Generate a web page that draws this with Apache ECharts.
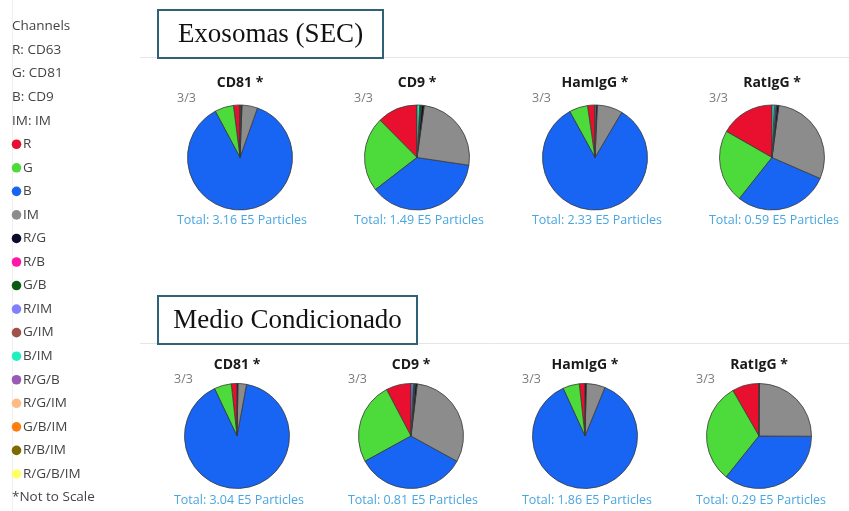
<!DOCTYPE html>
<html><head><meta charset="utf-8">
<script src="https://cdn.jsdelivr.net/npm/echarts@6/dist/echarts.min.js"></script>
<style>html,body{margin:0;padding:0;background:#fff}#c{width:849px;height:511px}</style>
</head><body><div id="c"></div>
<script>
// ---- data ----
const channels = ['R','G','B','IM','R/G','R/B','G/B','R/IM','G/IM','B/IM','R/G/B','R/G/IM','G/B/IM','R/B/IM','R/G/B/IM'];
const channelColors = ['#e8102e','#4cdb3a','#1765f2','#8c8c8c','#0b0b2e','#ff17a8','#0a5a14','#8080ff','#a0524a','#20f0c0','#9b59b6','#ffbb84','#ff7f0e','#7f6a00','#ffff66'];
const legendHeader = ['Channels','R: CD63','G: CD81','B: CD9','IM: IM'];
const footNote = '*Not to Scale';
const markers = ['CD81 *','CD9 *','HamIgG *','RatIgG *'];
const groupTitles = ['Exosomas (SEC)','Medio Condicionado'];
const exoTotals = ['3.16','1.49','2.33','0.59'];
const medTotals = ['3.04','0.81','1.86','0.29'];
// percentages per channel (order of channels)
const exoCD81   = [2.0, 5.8, 86.7, 4.8, 0.3, 0, 0.2, 0, 0, 0.1, 0, 0, 0, 0, 0];
const exoCD9    = [12.4, 23.0, 37.1, 25.1, 0.8, 0, 0.6, 0, 0, 0.8, 0, 0, 0, 0, 0];
const exoHamIgG = [2.3, 5.7, 83.5, 7.8, 0.4, 0, 0, 0, 0, 0.3, 0, 0, 0, 0, 0];
const exoRatIgG = [16.7, 22.6, 29.1, 29.4, 0.6, 0, 0.3, 0.5, 0, 0.7, 0, 0, 0, 0, 0];
const medCD81   = [1.75, 5.3, 90.0, 2.6, 0.3, 0, 0, 0, 0, 0, 0, 0, 0, 0, 0];
const medCD9    = [7.7, 25.3, 34.0, 31.1, 0.6, 0, 0.6, 0.7, 0, 0, 0, 0, 0, 0, 0];
const medHamIgG = [1.75, 5.1, 86.9, 5.8, 0.4, 0, 0, 0, 0, 0, 0, 0, 0, 0, 0];
const medRatIgG = [8.3, 31.0, 35.7, 25.0, 0.1, 0, 0, 0, 0, 0, 0, 0, 0, 0, 0];

// ---- layout ----
const font = '"Open Sans", "Noto Sans", sans-serif';
const rows = [
  {vals:[exoCD81,exoCD9,exoHamIgG,exoRatIgG], totals:exoTotals, cy:157.5, titleY:83, fracY:98, totY:220,
   box:{x:158,y:10,w:225,h:48}, line:57.5},
  {vals:[medCD81,medCD9,medHamIgG,medRatIgG], totals:medTotals, cy:436, titleY:365, fracY:379, totY:500,
   box:{x:158,y:296,w:259,h:48}, line:343.5}
];
const colXs = [[240,417,595,772],[237,411,585,759]];
const R = 52.5;

const series = [];
const graphic = [];
rows.forEach((row, ri) => {
  graphic.push({type:'line', shape:{x1:140,y1:row.line,x2:849,y2:row.line}, style:{stroke:'#e6e6e6',lineWidth:1}, z:1});
  graphic.push({type:'rect', shape:{x:row.box.x,y:row.box.y,width:row.box.w,height:row.box.h},
    style:{fill:'#fff',stroke:'#2f6278',lineWidth:2}, z:5});
  graphic.push({type:'text', x:row.box.x+row.box.w/2, y:row.box.y+row.box.h/2+1,
    style:{text:groupTitles[ri], font:'27px "Liberation Serif", "Times New Roman", serif', fill:'#111', textAlign:'center', textVerticalAlign:'middle'}, z:6});
  row.vals.forEach((vals, ci) => {
    const cx = colXs[ri][ci];
    series.push({
      type:'pie', center:[cx,row.cy], radius:[0,R], startAngle:90, clockwise:false,
      label:{show:false}, labelLine:{show:false}, silent:true, animation:false,
      emphasis:{disabled:true},
      data: channels.map((n,k)=>({name:n, value:vals[k],
        itemStyle:{color:channelColors[k], borderColor:'#3a3a3a', borderWidth: vals[k]>0?0.8:0}}))
    });
    graphic.push({type:'text', x:cx, y:row.titleY, style:{text:markers[ci], font:'bold 14px '+font, fill:'#1a1a1a', textAlign:'center', textVerticalAlign:'middle'}});
    graphic.push({type:'text', x:cx-63, y:row.fracY, style:{text:'3/3', font:'12.5px '+font, fill:'#7a7a7a', textAlign:'left', textVerticalAlign:'middle'}});
    graphic.push({type:'text', x:cx+2, y:row.totY, style:{text:'Total: '+row.totals[ci]+' E5 Particles', font:'12.5px '+font, fill:'#4aa6df', textAlign:'center', textVerticalAlign:'middle'}});
  });
});

// legend panel
graphic.push({type:'line', shape:{x1:12.5,y1:0,x2:12.5,y2:511}, style:{stroke:'#efefef',lineWidth:1}});
const step = 23.55, y0 = 26.5;
legendHeader.forEach((t,i)=>{
  graphic.push({type:'text', x:12, y:y0+i*step, style:{text:t, font:'13.5px '+font, fill:'#444', textVerticalAlign:'middle'}});
});
channels.forEach((n,k)=>{
  const y = y0+(k+5)*step;
  graphic.push({type:'circle', shape:{cx:16.5,cy:y,r:4.8}, style:{fill:channelColors[k]}});
  graphic.push({type:'text', x:23, y:y, style:{text:n, font:'13.5px '+font, fill:'#444', textVerticalAlign:'middle'}});
});
graphic.push({type:'text', x:12, y:y0+20*step, style:{text:footNote, font:'13.5px '+font, fill:'#444', textVerticalAlign:'middle'}});

const chart = echarts.init(document.getElementById('c'), null, {renderer:'canvas'});
chart.setOption({backgroundColor:'#fff', animation:false, series:series, graphic:graphic});
</script></body></html>
